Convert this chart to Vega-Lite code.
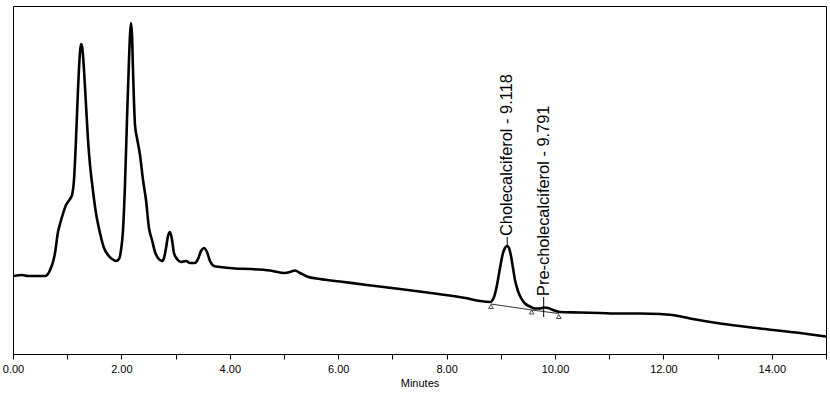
{
  "$schema": "https://vega.github.io/schema/vega-lite/v6.json",
  "width": 813,
  "height": 348,
  "autosize": {"type": "none"},
  "padding": {"left": 13, "top": 6, "right": 4, "bottom": 42},
  "background": "white",
  "config": {
    "view": {"stroke": "black", "strokeWidth": 1},
    "font": "Liberation Sans",
    "axis": {"grid": false}
  },
  "datasets": {
    "trace": [
      {"time": 0.0, "value": 78}, {"time": 0.074, "value": 78.5}, {"time": 0.166, "value": 79},
      {"time": 0.277, "value": 78}, {"time": 0.406, "value": 78}, {"time": 0.59, "value": 78},
      {"time": 0.646, "value": 80}, {"time": 0.683, "value": 84}, {"time": 0.738, "value": 92},
      {"time": 0.775, "value": 101}, {"time": 0.83, "value": 122}, {"time": 0.867, "value": 130},
      {"time": 0.904, "value": 137}, {"time": 0.978, "value": 149}, {"time": 1.052, "value": 155},
      {"time": 1.089, "value": 159}, {"time": 1.125, "value": 174}, {"time": 1.162, "value": 214},
      {"time": 1.199, "value": 264}, {"time": 1.236, "value": 302}, {"time": 1.255, "value": 310},
      {"time": 1.273, "value": 308}, {"time": 1.31, "value": 284}, {"time": 1.347, "value": 249},
      {"time": 1.384, "value": 214}, {"time": 1.421, "value": 189}, {"time": 1.458, "value": 171},
      {"time": 1.531, "value": 141}, {"time": 1.605, "value": 121}, {"time": 1.679, "value": 106},
      {"time": 1.753, "value": 99}, {"time": 1.827, "value": 95}, {"time": 1.9, "value": 93},
      {"time": 1.956, "value": 95}, {"time": 1.993, "value": 104}, {"time": 2.03, "value": 124},
      {"time": 2.066, "value": 169}, {"time": 2.103, "value": 234}, {"time": 2.14, "value": 294},
      {"time": 2.159, "value": 319}, {"time": 2.177, "value": 331}, {"time": 2.196, "value": 319},
      {"time": 2.214, "value": 284}, {"time": 2.251, "value": 229}, {"time": 2.288, "value": 216},
      {"time": 2.343, "value": 199}, {"time": 2.399, "value": 174}, {"time": 2.454, "value": 154},
      {"time": 2.509, "value": 126}, {"time": 2.565, "value": 114}, {"time": 2.62, "value": 102},
      {"time": 2.675, "value": 96}, {"time": 2.749, "value": 93}, {"time": 2.786, "value": 96},
      {"time": 2.823, "value": 106}, {"time": 2.86, "value": 118}, {"time": 2.897, "value": 122},
      {"time": 2.934, "value": 114}, {"time": 2.97, "value": 101}, {"time": 3.026, "value": 95},
      {"time": 3.1, "value": 92}, {"time": 3.192, "value": 93}, {"time": 3.266, "value": 91},
      {"time": 3.358, "value": 91}, {"time": 3.413, "value": 95}, {"time": 3.469, "value": 103},
      {"time": 3.524, "value": 106}, {"time": 3.579, "value": 102}, {"time": 3.635, "value": 93},
      {"time": 3.708, "value": 88}, {"time": 3.819, "value": 87}, {"time": 4.096, "value": 85.5},
      {"time": 4.373, "value": 85}, {"time": 4.742, "value": 83.5}, {"time": 5.018, "value": 81},
      {"time": 5.111, "value": 82}, {"time": 5.203, "value": 83.5}, {"time": 5.295, "value": 81},
      {"time": 5.424, "value": 77.5}, {"time": 5.664, "value": 75}, {"time": 6.033, "value": 72.5},
      {"time": 6.531, "value": 69}, {"time": 7.14, "value": 65}, {"time": 7.749, "value": 60.7},
      {"time": 8.376, "value": 55.7}, {"time": 8.616, "value": 53}, {"time": 8.801, "value": 52},
      {"time": 8.875, "value": 57}, {"time": 8.93, "value": 69}, {"time": 8.985, "value": 86},
      {"time": 9.041, "value": 101}, {"time": 9.077, "value": 106}, {"time": 9.114, "value": 108},
      {"time": 9.151, "value": 106}, {"time": 9.188, "value": 98}, {"time": 9.225, "value": 86},
      {"time": 9.262, "value": 74}, {"time": 9.317, "value": 63}, {"time": 9.373, "value": 56},
      {"time": 9.446, "value": 50.5}, {"time": 9.539, "value": 47.5}, {"time": 9.631, "value": 45.5},
      {"time": 9.723, "value": 45.5}, {"time": 9.797, "value": 46.5}, {"time": 9.871, "value": 46},
      {"time": 9.963, "value": 44}, {"time": 10.092, "value": 42}, {"time": 10.461, "value": 41.5},
      {"time": 10.83, "value": 41}, {"time": 11.199, "value": 40.5}, {"time": 11.568, "value": 40.5},
      {"time": 11.937, "value": 40}, {"time": 12.159, "value": 39}, {"time": 12.491, "value": 35.5},
      {"time": 13.044, "value": 30.5}, {"time": 13.782, "value": 25.5}, {"time": 14.52, "value": 21},
      {"time": 15.0, "value": 17.5}
    ],
    "baseline": [
      {"seg": "a", "time": 8.82, "value": 50}, {"seg": "a", "time": 9.57, "value": 44},
      {"seg": "b", "time": 9.57, "value": 44}, {"seg": "b", "time": 10.07, "value": 40.5}
    ],
    "markers": [
      {"time": 8.82, "value": 47.5}, {"time": 9.57, "value": 42}, {"time": 10.07, "value": 37.5}
    ],
    "peaks": [
      {"name": "Cholecalciferol - 9.118", "time": 9.118, "value": 108, "value2": 117},
      {"name": "Pre-cholecalciferol - 9.791", "time": 9.791, "value": 37, "value2": 57}
    ]
  },
  "layer": [
    {
      "data": {"name": "trace"},
      "mark": {"type": "line", "color": "black", "strokeWidth": 2.6, "interpolate": "monotone"},
      "encoding": {
        "x": {
          "field": "time", "type": "quantitative",
          "scale": {"domain": [0, 15], "nice": false, "zero": false},
          "axis": {
            "title": "Minutes",
            "values": [0, 0.5, 1, 1.5, 2, 2.5, 3, 3.5, 4, 4.5, 5, 5.5, 6, 6.5, 7, 7.5, 8, 8.5, 9, 9.5, 10, 10.5, 11, 11.5, 12, 12.5, 13, 13.5, 14, 14.5, 15],
            "labelExpr": "datum.value % 2 == 0 && datum.value < 15 ? format(datum.value, '.2f') : ''",
            "labelFont": "Liberation Sans", "labelFontSize": 11, "labelColor": "black",
            "labelFlush": false, "labelOverlap": false, "labelBound": false, "labelPadding": 4,
            "tickSize": 5, "tickColor": "black", "domainColor": "black",
            "titleFont": "Liberation Sans", "titleFontSize": 11, "titleFontWeight": "normal",
            "titleColor": "black", "titlePadding": 3
          }
        },
        "y": {
          "field": "value", "type": "quantitative",
          "scale": {"domain": [0, 348], "nice": false, "zero": false},
          "axis": null
        }
      }
    },
    {
      "data": {"name": "baseline"},
      "mark": {"type": "line", "color": "black", "strokeWidth": 0.8},
      "encoding": {
        "x": {"field": "time", "type": "quantitative"},
        "y": {"field": "value", "type": "quantitative"},
        "detail": {"field": "seg"}
      }
    },
    {
      "data": {"name": "markers"},
      "mark": {"type": "point", "shape": "triangle-up", "filled": false, "stroke": "black", "strokeWidth": 1, "size": 22},
      "encoding": {
        "x": {"field": "time", "type": "quantitative"},
        "y": {"field": "value", "type": "quantitative"}
      }
    },
    {
      "data": {"name": "peaks"},
      "mark": {"type": "rule", "color": "black", "strokeWidth": 1},
      "encoding": {
        "x": {"field": "time", "type": "quantitative"},
        "y": {"field": "value", "type": "quantitative"},
        "y2": {"field": "value2"}
      }
    },
    {
      "data": {"name": "peaks"},
      "mark": {"type": "text", "angle": 270, "align": "left", "baseline": "middle", "font": "Liberation Sans", "fontSize": 16.4, "color": "black", "dx": 1},
      "encoding": {
        "x": {"field": "time", "type": "quantitative"},
        "y": {"field": "value2", "type": "quantitative"},
        "text": {"field": "name"}
      }
    }
  ]
}
